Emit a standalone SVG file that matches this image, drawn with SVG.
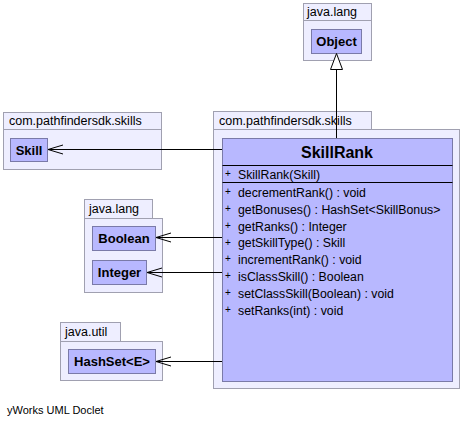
<svg xmlns="http://www.w3.org/2000/svg" width="463" height="427" viewBox="0 0 463 427">
<defs>
<style>
.pkg{fill:#eeeeff;stroke:#a0a0b0;stroke-width:1}
.cls{fill:#b8b8ff;stroke:#7a7aa8;stroke-width:1}
.plab{font-family:"Liberation Sans",Arial,sans-serif;font-size:12.5px;fill:#000}
.cname{font-family:"Liberation Sans",Arial,sans-serif;font-size:13px;font-weight:bold;fill:#000;text-anchor:middle}
.title{font-family:"Liberation Sans",Arial,sans-serif;font-size:16px;font-weight:bold;fill:#000;text-anchor:middle}
.m{font-family:"Liberation Sans",Arial,sans-serif;font-size:12.3px;fill:#000}
.plus{font-family:"Liberation Sans",Arial,sans-serif;font-size:10px;fill:#000}
.div{stroke:#000;stroke-width:1}
.edge{stroke:#000;stroke-width:1;fill:none}
.foot{font-family:"Liberation Sans",Arial,sans-serif;font-size:11px;fill:#000}
</style>
<marker id="open" markerUnits="userSpaceOnUse" markerWidth="20" markerHeight="12" viewBox="-17 -6 18 12" refX="0" refY="0" orient="auto">
<path d="M-15,-4.5 L0,0 L-15,4.5" fill="none" stroke="#000" stroke-width="1"/>
</marker>
</defs>

<g id="pkg-java-lang-top">
<rect class="pkg" x="303.5" y="3.5" width="68" height="17"/>
<rect class="pkg" x="303.5" y="20.5" width="68" height="40"/>
<text class="plab" x="307" y="16">java.lang</text>
</g>
<g id="node-Object">
<rect class="cls" x="311.5" y="29.5" width="50" height="24"/>
<text class="cname" x="336.5" y="46">Object</text>
</g>

<g id="pkg-skills-left">
<rect class="pkg" x="3.5" y="112.5" width="158" height="17"/>
<rect class="pkg" x="3.5" y="129.5" width="158" height="40"/>
<text class="plab" x="9" y="125">com.pathfindersdk.skills</text>
</g>
<g id="node-Skill">
<rect class="cls" x="10.5" y="138.5" width="37" height="23"/>
<text class="cname" x="29" y="155">Skill</text>
</g>

<g id="pkg-java-lang-left">
<rect class="pkg" x="84.5" y="199.5" width="68" height="19"/>
<rect class="pkg" x="84.5" y="218.5" width="78" height="74"/>
<text class="plab" x="89" y="213">java.lang</text>
</g>
<g id="node-Boolean">
<rect class="cls" x="92.5" y="226.5" width="63" height="24"/>
<text class="cname" x="124" y="243">Boolean</text>
</g>
<g id="node-Integer">
<rect class="cls" x="92.5" y="260.5" width="54" height="24"/>
<text class="cname" x="119.5" y="277">Integer</text>
</g>

<g id="pkg-java-util">
<rect class="pkg" x="60.5" y="322.5" width="60" height="19"/>
<rect class="pkg" x="60.5" y="341.5" width="102" height="39"/>
<text class="plab" x="65" y="336">java.util</text>
</g>
<g id="node-HashSet">
<rect class="cls" x="68.5" y="349.5" width="87" height="24"/>
<text class="cname" x="112" y="366">HashSet&lt;E&gt;</text>
</g>

<g id="pkg-skills-main">
<rect class="pkg" x="213.5" y="111.5" width="158" height="18"/>
<rect class="pkg" x="213.5" y="129.5" width="246" height="259"/>
<text class="plab" x="219" y="125">com.pathfindersdk.skills</text>
</g>
<g id="node-SkillRank">
<rect class="cls" x="222.5" y="138.5" width="230" height="243"/>
<text class="title" x="337" y="158">SkillRank</text>
<line class="div" x1="222.5" y1="165.5" x2="452.5" y2="165.5"/>
<line class="div" x1="222.5" y1="182.5" x2="452.5" y2="182.5"/>
<text class="plus" x="225" y="177">+</text><text class="m" x="238" y="179">SkillRank(Skill)</text>
<text class="plus" x="225" y="195">+</text><text class="m" x="238" y="197">decrementRank() : void</text>
<text class="plus" x="225" y="212">+</text><text class="m" x="238" y="214">getBonuses() : HashSet&lt;SkillBonus&gt;</text>
<text class="plus" x="225" y="228.5">+</text><text class="m" x="238" y="230.6">getRanks() : Integer</text>
<text class="plus" x="225" y="245.5">+</text><text class="m" x="238" y="247.4">getSkillType() : Skill</text>
<text class="plus" x="225" y="262">+</text><text class="m" x="238" y="264.2">incrementRank() : void</text>
<text class="plus" x="225" y="279">+</text><text class="m" x="238" y="281">isClassSkill() : Boolean</text>
<text class="plus" x="225" y="296">+</text><text class="m" x="238" y="297.8">setClassSkill(Boolean) : void</text>
<text class="plus" x="225" y="312.5">+</text><text class="m" x="238" y="314.6">setRanks(int) : void</text>
</g>

<g id="connectors">
<line class="edge" x1="336.5" y1="138" x2="336.5" y2="69.5"/>
<path d="M336.5,53.5 L330.5,69.5 L342.5,69.5 Z" fill="#fff" stroke="#000" stroke-width="1"/>
<line class="edge" x1="222" y1="149.5" x2="48" y2="149.5" marker-end="url(#open)"/>
<line class="edge" x1="222" y1="237.5" x2="156" y2="237.5" marker-end="url(#open)"/>
<line class="edge" x1="222" y1="272.5" x2="147" y2="272.5" marker-end="url(#open)"/>
<line class="edge" x1="222" y1="361.5" x2="156" y2="361.5" marker-end="url(#open)"/>
</g>

<text class="foot" x="7" y="414">yWorks UML Doclet</text>
</svg>
